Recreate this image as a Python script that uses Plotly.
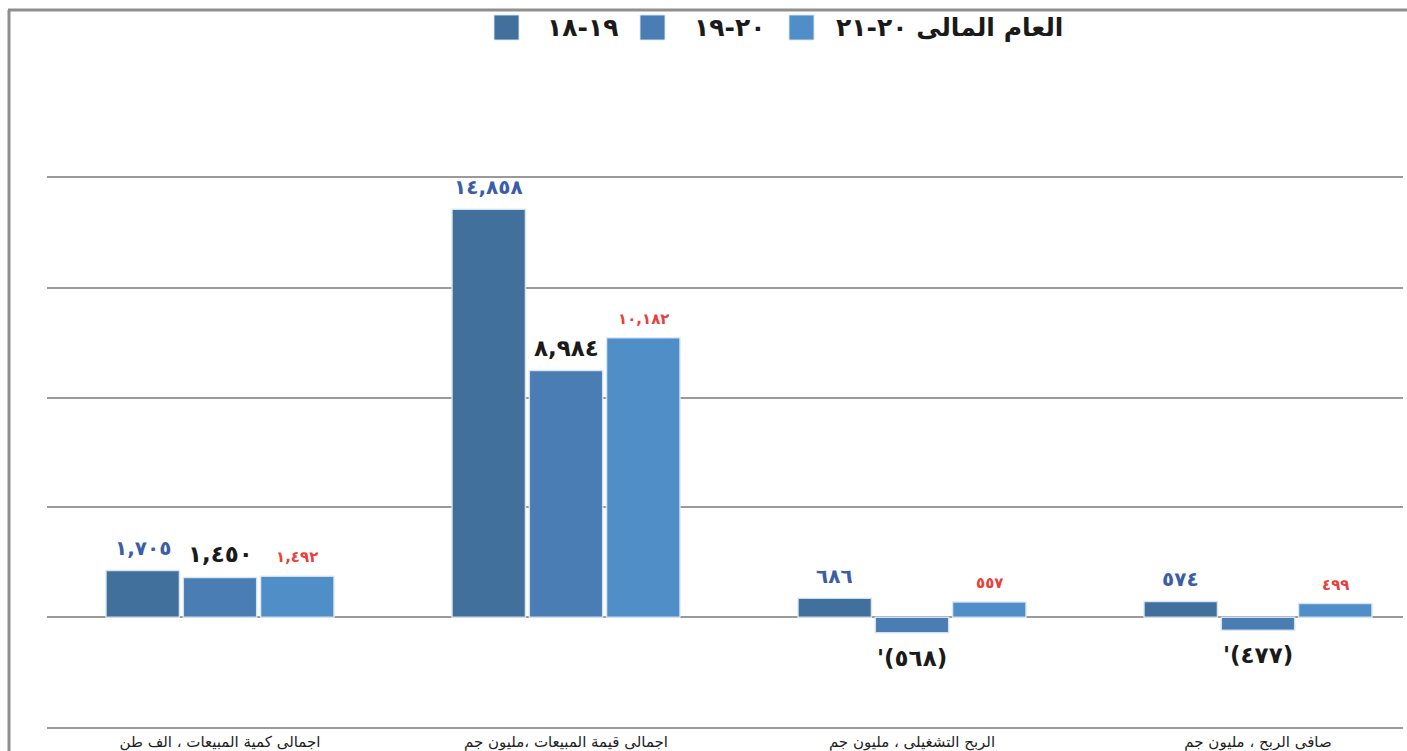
import plotly.graph_objects as go

# ---- data ----
categories = [
    "اجمالى كمية المبيعات ، الف طن",
    "اجمالى قيمة المبيعات ،مليون جم",
    "الربح التشغيلى ، مليون جم",
    "صافى الربح ، مليون جم",
]
series_names = ["١٨\u200e-١٩", "١٩\u200e-٢٠", "العام المالى ٢٠-٢١"]
values_18_19 = [1705, 14858, 686, 574]
values_19_20 = [1450, 8984, -568, -477]
values_20_21 = [1492, 10182, 557, 499]

series_values = [values_18_19, values_19_20, values_20_21]
bar_colors = ["#41709d", "#4a7db3", "#4f8ec6"]
label_colors = ["#3a5ea8", "#1a1a1a", "#e8403a"]
label_sizes = [20, 23, 15]

W, H = 1407, 751
ML, MR, MT, MB = 47, 4, 178, 24
PW, PH = W - ML - MR, H - MT - MB
BARGAP = 0.33

def px_x(px):
    return (px - ML) / PW

def px_y(py):
    return (H - MB - py) / PH

AR_DIGITS = str.maketrans("0123456789", "٠١٢٣٤٥٦٧٨٩")

def fmt(v):
    s = f"{abs(v):,}".translate(AR_DIGITS)
    return f"'({s})" if v < 0 else s

xs = list(range(len(categories)))
fig = go.Figure()
for name, vals, col in zip(series_names, series_values, bar_colors):
    fig.add_trace(go.Bar(
        x=xs, y=vals, name=name, marker=dict(color=col, line=dict(color="rgba(220,232,245,0.9)", width=1.5)),
        showlegend=False, hoverinfo="skip",
    ))

annotations = []
slot = (1 - BARGAP) / 3
for i, (vals, lc, ls) in enumerate(zip(series_values, label_colors, label_sizes)):
    for j, v in enumerate(vals):
        annotations.append(dict(
            x=j + (i - 1) * slot, y=v, xref="x", yref="y", text=fmt(v), showarrow=False,
            font=dict(family="DejaVu Sans", size=ls, color=lc, weight="bold"),
            yanchor="bottom" if v >= 0 else "top", yshift=8 if v >= 0 else -10,
        ))

# manual legend
shapes = []
leg_sq = [(494, 519), (640, 665), (789, 814)]
leg_tx = [545, 692, 834]
for (x0, x1), tx, name, col in zip(leg_sq, leg_tx, series_names, bar_colors):
    shapes.append(dict(type="rect", xref="paper", yref="paper", x0=px_x(x0), x1=px_x(x1),
                       y0=px_y(40), y1=px_y(15), fillcolor=col, line=dict(color="rgba(220,232,245,0.9)", width=1)))
    annotations.append(dict(x=px_x(tx), y=px_y(27), xref="paper", yref="paper", text=name, showarrow=False,
                            xanchor="left", yanchor="middle",
                            font=dict(family="DejaVu Sans", size=25, color="#1a1a1a", weight="bold")))

# frame (left and top)
shapes.append(dict(type="line", xref="paper", yref="paper", x0=px_x(9), x1=px_x(9), y0=px_y(10), y1=px_y(760),
                   line=dict(color="#8f8f8f", width=3)))
shapes.append(dict(type="line", xref="paper", yref="paper", x0=px_x(8), x1=px_x(1420), y0=px_y(10), y1=px_y(10),
                   line=dict(color="#8f8f8f", width=3)))

fig.update_layout(
    width=W, height=H,
    margin=dict(l=ML, r=MR, t=MT, b=MB, autoexpand=False),
    paper_bgcolor="white", plot_bgcolor="white",
    barmode="group", bargap=BARGAP, bargroupgap=0.05,
    annotations=annotations, shapes=shapes,
    xaxis=dict(tickvals=xs, ticktext=categories, range=[-0.5, -0.5 + PW / 346.0], automargin=False,
               showgrid=False, zeroline=False, showline=True, mirror=True, linecolor="#9a9a9a", linewidth=2,
               tickfont=dict(family="DejaVu Sans", size=15, color="#222222"), ticks=""),
    yaxis=dict(range=[-4000, 16000], dtick=4000, tick0=0, showticklabels=False, automargin=False,
               showgrid=True, gridcolor="#9a9a9a", gridwidth=2,
               zeroline=True, zerolinecolor="#9a9a9a", zerolinewidth=2),
)

fig.write_html("out.html", config={"displayModeBar": False},
               post_script="document.body.style.margin='0px';document.body.style.padding='0px';")
